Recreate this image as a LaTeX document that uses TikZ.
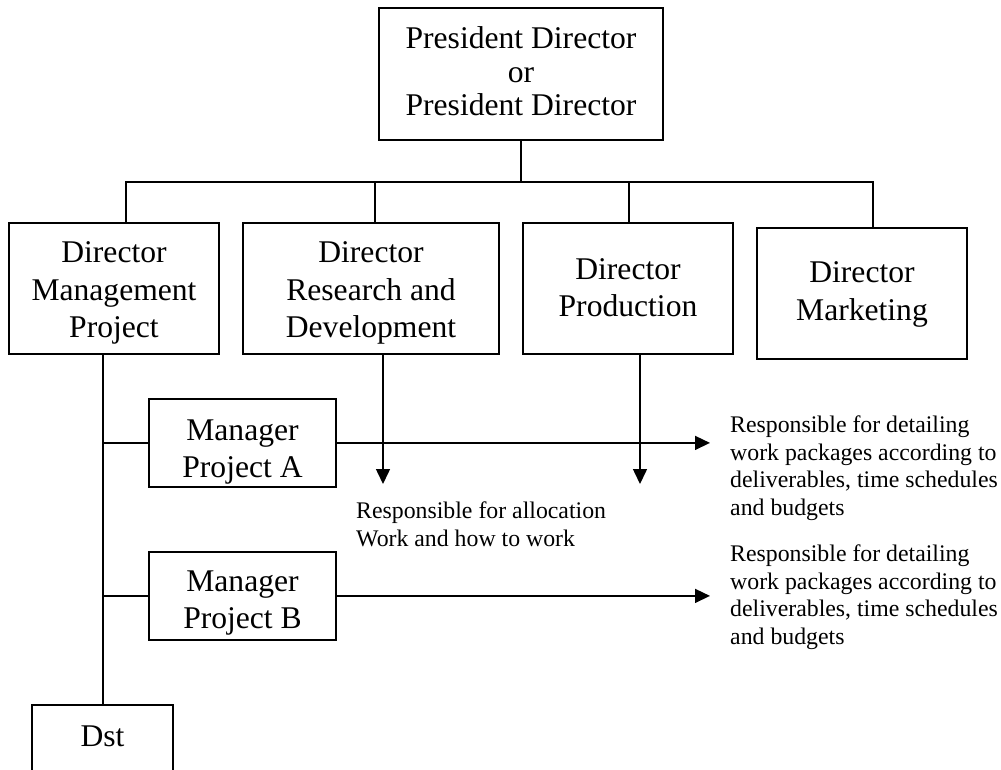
\documentclass[tikz,border=0pt]{standalone}
\usepackage{fontspec}
\setmainfont{Liberation Serif}
\usepackage{tikz}
\usetikzlibrary{positioning,calc,arrows.meta}

\begin{document}
\begin{tikzpicture}[x=1pt, y=-1pt,
  box/.style={draw=black, line width=1.8pt, align=center, inner sep=0pt, anchor=north,
    font=\fontsize{31.6}{37.5}\selectfont},
  note/.style={align=left, anchor=west, inner sep=0pt,
    font=\fontsize{23.8}{27.6}\selectfont},
  link/.style={black, line width=1.5pt},
  arr/.style={link, -{Triangle[length=15pt,width=14pt]}}]
\useasboundingbox (0,0) rectangle (1001,769);

\node[box, minimum width=284, text height=108pt, text depth=24pt, font=\fontsize{31.6}{33.5}\selectfont] (pres) at (521,7) {President Director\\or\\President Director};
\node[box, minimum width=210, text height=114.7pt, text depth=16.3pt] (dirmp)   at (114,222) {Director\\Management\\Project};
\node[box, minimum width=256, text height=114.7pt, text depth=16.3pt] (dirrd)   at (371,222) {Director\\Research and\\Development};
\node[box, minimum width=210, text height=94pt, text depth=37pt] (dirprod) at (628,222) {Director\\Production};
\node[box, minimum width=210, text height=92.3pt, text depth=38.7pt] (dirmkt)  at (862,227) {Director\\Marketing};
\node[box, minimum width=187, text height=78.7pt, text depth=9.3pt] (mgra) at (242.5,398) {Manager\\Project A};
\node[box, minimum width=187, text height=76.7pt, text depth=11.3pt] (mgrb) at (242.5,551) {Manager\\Project B};
\node[box, minimum width=141, text height=41.7pt, text depth=60pt] (dst) at (102.5,704) {Dst};

\node[note] (notealloc) at (356,524) {Responsible for allocation\\Work and how to work};
\node[note] (notea) at (730,468) {Responsible for detailing\\work packages according to\\deliverables, time schedules\\and budgets};
\node[note] (noteb) at (730,597) {Responsible for detailing\\work packages according to\\deliverables, time schedules\\and budgets};

\coordinate (busL) at (126,182);
\coordinate (busR) at (873,182);
\coordinate (dropRD) at (375,182);
\coordinate (dropP) at (629,182);
\coordinate (spine) at (103,0);
\coordinate (tipRD) at (383,484);
\coordinate (tipP) at (640,484);
\coordinate (tipR) at (710,0);

\draw[link] (pres.south) -- (pres.south |- busL);
\draw[link] (busL |- dirmp.north) -- (busL) -- (busR) -- (busR |- dirmkt.north);
\draw[link] (dropRD) -- (dropRD |- dirrd.north);
\draw[link] (dropP) -- (dropP |- dirprod.north);
\draw[link] (dirmp.south -| spine) -- (dst.north -| spine);
\draw[link] (spine |- mgra.west) -- (mgra.west);
\draw[link] (spine |- mgrb.west) -- (mgrb.west);
\draw[arr] (dirrd.south -| tipRD) -- (tipRD);
\draw[arr] (dirprod.south -| tipP) -- (tipP);
\draw[arr] (mgra.east) -- (mgra.east -| tipR);
\draw[arr] (mgrb.east) -- (mgrb.east -| tipR);
\end{tikzpicture}
\end{document}
